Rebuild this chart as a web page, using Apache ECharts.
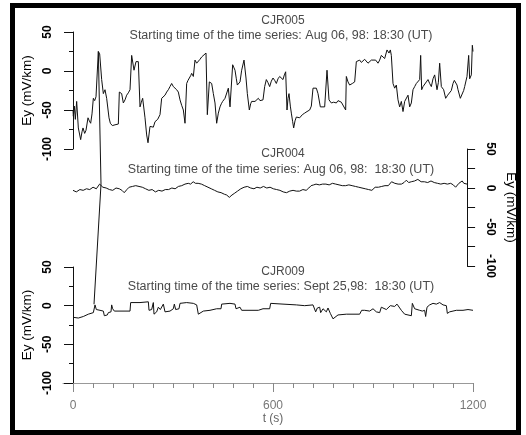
<!DOCTYPE html>
<html><head><meta charset="utf-8">
<script src="https://cdn.jsdelivr.net/npm/echarts@6/dist/echarts.min.js"></script>
<style>
html,body{margin:0;padding:0;background:#fff;}
#main{position:absolute;left:0;top:0;width:526px;height:435px;}
#frame{position:absolute;left:10px;top:3px;width:511px;height:432px;border:5px solid #000;box-sizing:border-box;pointer-events:none;}
</style>
</head><body><div id="main"></div><div id="frame"></div>
<script>
// ---- data (t in seconds, Ey in mV/km) ----
const cjr005 = [[0,-50],[1,-58],[4,-45],[7,-62],[11,-39],[16,-73],[23,-88],[27,-78],[30,-73],[35,-80],[39,-76],[45,-60],[49,-64],[53,-67],[57,-55],[61,-35],[65,-38],[69,-33],[73,-35],[76,25],[80,22],[83,20],[86,-11],[91,-29],[96,-24],[101,-35],[108,-60],[112,-67],[118,-70],[126,-69],[131,-70],[136,-68],[139,-27],[146,-29],[151,-41],[156,-37],[161,-31],[166,-28],[171,-24],[176,20],[183,1],[189,12],[196,12],[201,-46],[205,-40],[209,-35],[216,-60],[221,-82],[225,-92],[231,-71],[236,-69],[241,-72],[246,-65],[254,-62],[261,-56],[266,-35],[271,-33],[276,-31],[281,-27],[286,-24],[291,-20],[296,-16],[301,-20],[306,-22],[311,-24],[316,-27],[321,-37],[326,-44],[331,-50],[336,-67],[341,-16],[345,-12],[349,-9],[353,-6],[356,-3],[361,-7],[366,14],[371,10],[376,12],[381,15],[386,18],[392,20],[399,23],[403,-56],[409,-14],[413,-12],[416,-16],[421,-29],[426,-41],[431,-67],[436,-54],[441,-46],[445,-42],[449,-39],[453,-37],[456,-35],[461,-37],[466,-22],[471,-46],[479,8],[483,4],[486,1],[490,-10],[493,-18],[497,-16],[501,-14],[506,1],[513,14],[519,-9],[523,-29],[529,-50],[533,-42],[536,-39],[541,-41],[546,-39],[551,-37],[556,-35],[561,-38],[566,-39],[570,-37],[575,-20],[580,-11],[585,-15],[590,-20],[595,-13],[600,-9],[605,-12],[610,-16],[615,-10],[620,-7],[625,-9],[630,-11],[634,-5],[638,-1],[642,-50],[645,-35],[648,-29],[652,-45],[655,-54],[659,-65],[662,-73],[666,-64],[670,-59],[675,-57],[680,-60],[688,-56],[695,-54],[702,-52],[710,-50],[715,-45],[720,-22],[725,-20],[730,-22],[735,-29],[742,-46],[748,-44],[755,-46],[762,1],[768,-37],[775,-41],[782,-40],[790,-41],[795,-38],[800,-37],[805,-40],[810,-41],[818,-50],[820,-7],[825,-14],[830,-18],[838,-16],[845,-14],[850,12],[855,10],[860,14],[865,11],[870,12],[875,15],[880,14],[885,10],[890,12],[895,14],[900,16],[908,14],[915,10],[920,14],[925,20],[930,18],[935,16],[942,27],[948,23],[952,27],[955,20],[960,-16],[965,-22],[970,-18],[975,-37],[980,-46],[985,-39],[990,-52],[995,-39],[1000,-39],[1005,-31],[1010,-46],[1015,-41],[1020,-24],[1025,-20],[1030,-16],[1035,-18],[1040,-11],[1043,20],[1046,-24],[1050,-20],[1055,-18],[1060,-14],[1065,-11],[1070,-16],[1075,-20],[1080,-10],[1085,-5],[1092,-24],[1096,-15],[1100,10],[1105,-20],[1112,-24],[1118,-35],[1124,-31],[1130,-33],[1135,-25],[1140,-16],[1144,-12],[1148,-11],[1152,-18],[1155,-24],[1162,-35],[1168,-33],[1172,-25],[1175,-20],[1182,-7],[1187,20],[1190,-10],[1195,-5],[1198,33],[1200,25]];
const spikeTrace = [[76,25],[84,-145],[63,-299]];
const cjr004 = [[0,-3],[10,-5],[21,-2],[31,-3],[41,-1],[51,-2],[61,1],[71,-1],[81,5],[91,1],[101,0],[111,-2],[121,-3],[131,0],[141,-1],[149,-3],[156,-6],[164,-2],[171,1],[181,2],[191,3],[201,2],[211,1],[221,-1],[231,-3],[241,-2],[251,-5],[261,-3],[271,-4],[281,-2],[291,-2],[301,0],[311,-1],[321,2],[331,3],[341,5],[351,6],[358,5],[366,8],[373,6],[381,6],[391,5],[401,3],[411,1],[421,-1],[431,-3],[441,-5],[451,-6],[461,-8],[468,-9],[476,-12],[484,-9],[491,-7],[501,-4],[511,-1],[521,1],[531,2],[541,0],[551,-1],[560,1],[570,0],[580,2],[590,0],[600,1],[610,-1],[620,-2],[630,-3],[640,-5],[650,-6],[660,-4],[670,-3],[680,-4],[690,-4],[700,-2],[710,-3],[718,0],[725,3],[733,4],[740,5],[750,4],[760,5],[770,5],[780,4],[790,6],[800,5],[810,4],[820,3],[830,3],[840,4],[850,3],[860,2],[870,1],[880,0],[890,-1],[900,-2],[910,-3],[920,1],[930,1],[940,2],[950,3],[960,3],[965,5],[970,8],[975,6],[980,6],[990,5],[1000,5],[1008,7],[1015,10],[1022,7],[1030,8],[1040,9],[1050,11],[1060,8],[1070,8],[1080,7],[1090,9],[1100,7],[1110,6],[1120,5],[1130,6],[1140,5],[1150,6],[1158,4],[1165,1],[1170,3],[1175,6],[1180,8],[1185,9],[1190,6],[1195,6],[1200,5]];
const cjr009 = [[0,-15],[16,-16],[31,-14],[46,-11],[61,-9],[64,-9],[66,1],[70,-5],[81,-6],[91,-7],[94,-13],[103,-12],[106,-9],[114,-8],[116,1],[119,-4],[124,-7],[171,-7],[173,4],[201,4],[226,5],[228,-6],[236,-5],[241,4],[243,-11],[251,-8],[256,-2],[262,-5],[266,-6],[271,2],[276,-8],[291,-7],[301,-4],[304,2],[308,-5],[318,-4],[321,3],[341,4],[361,3],[371,1],[376,-11],[391,-7],[411,-6],[431,-4],[444,-4],[446,2],[471,3],[486,2],[489,-4],[501,-2],[506,-6],[531,-6],[556,-6],[570,-4],[590,-4],[593,3],[630,2],[670,1],[695,0],[700,2],[720,1],[726,2],[728,-8],[733,-3],[740,-2],[743,-9],[750,-4],[755,-4],[760,-8],[765,-3],[772,-10],[780,-17],[795,-12],[820,-11],[860,-11],[866,-6],[875,-6],[880,-8],[890,-7],[900,-4],[905,-4],[910,-8],[920,-9],[925,-2],[930,-2],[940,-5],[945,-6],[952,0],[965,-1],[972,2],[978,1],[985,-6],[995,-11],[1000,-13],[1015,-13],[1018,3],[1025,-4],[1030,-6],[1040,-6],[1048,-7],[1055,-6],[1058,-14],[1062,-2],[1065,0],[1070,1],[1080,3],[1090,2],[1100,4],[1110,1],[1120,0],[1123,-10],[1130,-8],[1135,-7],[1150,-6],[1170,-6],[1185,-5],[1200,-6]];
const stations = ['CJR005','CJR004','CJR009'];
const startTimes = ['Starting time of the time series: Aug 06, 98: 18:30 (UT)','Starting time of the time series: Aug 06, 98:  18:30 (UT)','Starting time of the time series: Sept 25,98:  18:30 (UT)'];
const timeTicks = [0,60,120,180,240,300,360,420,480,540,600,660,720,780,840,900,960,1020,1080,1140,1200];
const timeLabels = [0,600,1200];
const yTitle = 'Ey (mV/km)';
const xTitle = 't (s)';

// ---- chart ----
const FONT = '"Liberation Sans", Arial, Helvetica, sans-serif';
const INK = '#111';
function yLeft(g, off){
  return {gridIndex:g,type:'value',min:-100,max:50,interval:50,position:'left',offset:off,
    axisLine:{show:true,onZero:false,lineStyle:{color:INK,width:1}},
    axisTick:{show:true,length:9,lineStyle:{color:INK}},
    minorTick:{show:true,splitNumber:2,length:4,lineStyle:{color:INK}},
    splitLine:{show:false},minorSplitLine:{show:false},
    axisLabel:{rotate:90,margin:19,color:'#000',fontSize:12,fontWeight:'bold',fontFamily:FONT},
    name:yTitle,nameLocation:'middle',nameRotate:90,nameGap:35,
    nameTextStyle:{color:'#000',fontSize:13.5,fontFamily:FONT}};
}
function lineSeries(xi,yi,data,clip){
  return {type:'line',xAxisIndex:xi,yAxisIndex:yi,data:data,symbol:'none',showSymbol:false,clip:clip,
    lineStyle:{color:INK,width:1},silent:true,animation:false};
}
const titleY = [[21,35.5],[154,170],[271.5,287]];
const graphics = [];
stations.forEach((s,i)=>{
  graphics.push({type:'text',x:283,y:titleY[i][0],silent:true,style:{text:s,align:'center',verticalAlign:'middle',textAlign:'center',textVerticalAlign:'middle',fontSize:12,fontFamily:FONT,fill:'#4a4a4a'}});
  graphics.push({type:'text',x:281,y:titleY[i][1],silent:true,style:{text:startTimes[i],align:'center',verticalAlign:'middle',textAlign:'center',textVerticalAlign:'middle',fontSize:12.5,fontFamily:FONT,fill:'#4a4a4a'}});
});

const chart = echarts.init(document.getElementById('main'),null,{renderer:'canvas'});
chart.setOption({
  animation:false,
  backgroundColor:'#fff',
  grid:[
    {left:73,top:32,width:400,height:117},
    {left:73,top:149,width:401,height:117},
    {left:63,top:267,width:410,height:116}
  ],
  xAxis:[
    {gridIndex:0,type:'value',min:0,max:1200,show:false},
    {gridIndex:1,type:'value',min:0,max:1200,show:false},
    {gridIndex:2,type:'value',min:-30,max:1200,position:'bottom',
      axisLine:{show:true,onZero:false,lineStyle:{color:'#999',width:1}},
      axisTick:{show:true,customValues:timeTicks,length:5,lineStyle:{color:'#888'}},
      axisLabel:{customValues:timeLabels,margin:17,color:'#777',fontSize:12,fontFamily:FONT,formatter:v=>String(v)},
      splitLine:{show:false},
      name:xTitle,nameLocation:'middle',nameGap:30,
      nameTextStyle:{color:'#666',fontSize:12,fontFamily:FONT,padding:[0,0,0,10]}},
    {gridIndex:2,type:'value',min:-30,max:1200,position:'bottom',
      axisLine:{show:false,onZero:false},
      axisTick:{show:true,customValues:timeLabels,length:9,lineStyle:{color:'#888'}},
      axisLabel:{show:false},splitLine:{show:false}}
  ],
  yAxis:[
    yLeft(0,0),
    {gridIndex:1,type:'value',min:-100,max:50,interval:25,position:'right',
      axisLine:{show:true,onZero:false,lineStyle:{color:INK,width:1}},
      axisTick:{show:true,length:8,lineStyle:{color:INK}},
      splitLine:{show:false},
      axisLabel:{rotate:-90,margin:17,color:'#000',fontSize:12,fontWeight:'bold',fontFamily:FONT,
        formatter:v=>(v%50===0?String(v):'')},
      name:yTitle,nameLocation:'middle',nameRotate:-90,nameGap:31,
      nameTextStyle:{color:'#000',fontSize:13.5,fontFamily:FONT}},
    yLeft(2,-10)
  ],
  graphic:graphics,
  series:[
    lineSeries(0,0,cjr005,true),
    lineSeries(0,0,spikeTrace,false),
    lineSeries(1,1,cjr004,true),
    lineSeries(2,2,cjr009,true)
  ]
});
</script></body></html>
